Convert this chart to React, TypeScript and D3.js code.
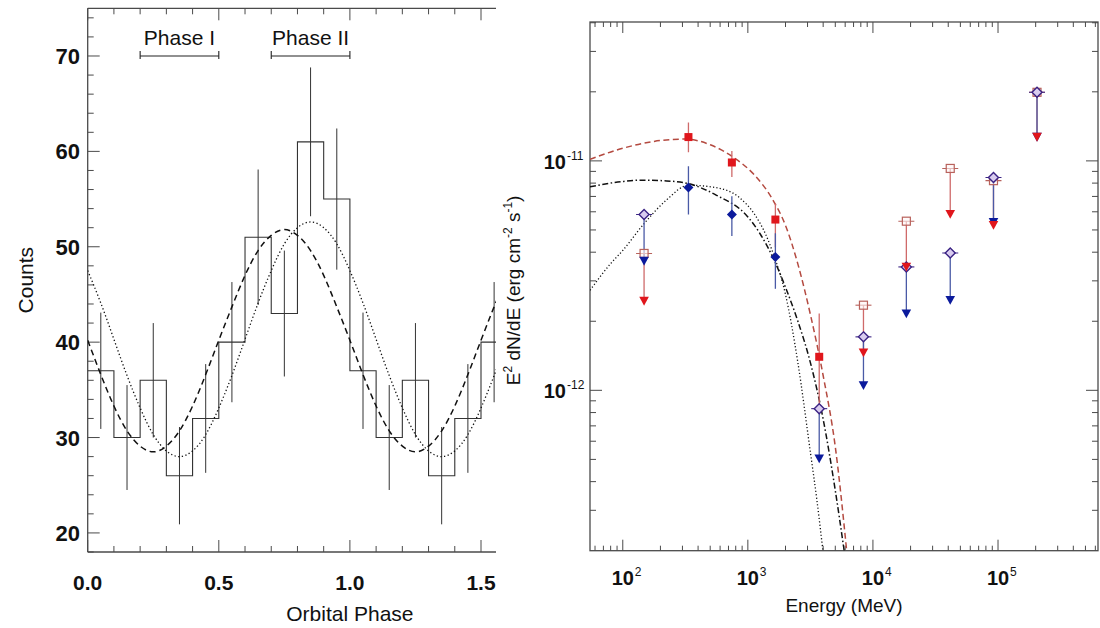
import React, { useEffect } from 'react';
import * as d3 from 'd3';

const FONT = '"Liberation Sans", Arial, Helvetica, sans-serif';

// ---------- left panel: counts vs orbital phase ----------
const binStarts = [0.0, 0.1, 0.2, 0.3, 0.4, 0.5, 0.6, 0.7, 0.8, 0.9, 1.0, 1.1, 1.2, 1.3, 1.4, 1.5];
const counts = [37, 30, 36, 26, 32, 40, 51, 43, 61, 55, 37, 30, 36, 26, 32, 40];
const countErr = [6.1, 5.5, 6.0, 5.1, 5.7, 6.3, 7.1, 6.6, 7.8, 7.4, 6.1, 5.5, 6.0, 5.1, 5.7, 6.3];

const fitPhase = [0, 0.05, 0.1, 0.15, 0.2, 0.25, 0.3, 0.35, 0.4, 0.45, 0.5, 0.55, 0.6, 0.65, 0.7, 0.75,
  0.8, 0.85, 0.9, 0.95, 1.0, 1.05, 1.1, 1.15, 1.2, 1.25, 1.3, 1.35, 1.4, 1.45, 1.5, 1.55, 1.6];
const dashedFit = [40.2, 36.6, 33.3, 30.7, 29.1, 28.5, 29.1, 30.7, 33.3, 36.6, 40.2, 43.7, 47.0, 49.6, 51.2, 51.8,
  51.2, 49.6, 47.0, 43.7, 40.2, 36.6, 33.3, 30.7, 29.1, 28.5, 29.1, 30.7, 33.3, 36.6, 40.2, 43.7, 47.0];
const dottedFit = [47.5, 44.1, 40.3, 36.5, 33.1, 30.3, 28.6, 28.0, 28.6, 30.3, 33.1, 36.5, 40.3, 44.1, 47.5, 50.3,
  52.0, 52.6, 52.0, 50.3, 47.5, 44.1, 40.3, 36.5, 33.1, 30.3, 28.6, 28.0, 28.6, 30.3, 33.1, 36.5, 40.3];

const phaseBandLabels = ['Phase I', 'Phase II'];
const phaseBandFrom = [0.2, 0.7];
const phaseBandTo = [0.5, 1.0];
const phaseBandLevel = 70;

const phaseTickLabels = ['0.0', '0.5', '1.0', '1.5'];
const countTickLabels = [20, 30, 40, 50, 60, 70];

// ---------- right panel: SED ----------
const energies = [148, 335, 745, 1660, 3720, 8400, 18500, 41500, 92000, 205000];

// phase I detections (red filled squares)
const redE = [335, 745, 1660, 3720];
const redFlux = [1.27e-11, 9.84e-12, 5.55e-12, 1.40e-12];
const redLo = [1.09e-11, 8.51e-12, 4.2e-12, 8.5e-13];
const redHi = [1.47e-11, 1.105e-11, 6.56e-12, 2.16e-12];
// phase I upper limits (open squares)
const redUlE = [148, 8400, 18500, 41500, 92000, 205000];
const redUl = [3.95e-12, 2.35e-12, 5.46e-12, 9.27e-12, 8.2e-12, 1.99e-11];
const redUlEnd = [2.45e-12, 1.46e-12, 3.45e-12, 5.86e-12, 5.25e-12, 1.27e-11];

// phase II detections (blue filled diamonds)
const blueE = [335, 745, 1660];
const blueFlux = [7.66e-12, 5.84e-12, 3.81e-12];
const blueLo = [5.84e-12, 4.70e-12, 2.77e-12];
const blueHi = [9.48e-12, 7.02e-12, 4.84e-12];
// phase II upper limits (open diamonds)
const blueUlE = [148, 3720, 8400, 18500, 41500, 92000, 205000];
const blueUl = [5.84e-12, 8.32e-13, 1.71e-12, 3.45e-12, 3.97e-12, 8.47e-12, 1.99e-11];
const blueUlEnd = [3.66e-12, 5.04e-13, 1.05e-12, 2.16e-12, 2.47e-12, 5.4e-12, 1.27e-11];

// model curves
const redModelE = [54.7, 100, 178, 316, 501, 794, 1122, 1585, 1995, 2512, 3162, 3981, 5012, 6166];
const redModelF = [1.016e-11, 1.135e-11, 1.216e-11, 1.245e-11, 1.175e-11, 1.023e-11, 8.71e-12, 6.76e-12,
  5.25e-12, 3.55e-12, 2.14e-12, 1.175e-12, 5.62e-13, 2.0e-13];
const dashDotE = [54.7, 100, 141, 224, 335, 562, 1000, 1259, 1585, 1995, 2512, 3162, 3981, 5012, 5888];
const dashDotF = [7.71e-12, 8.13e-12, 8.24e-12, 8.18e-12, 7.96e-12, 7.08e-12, 5.70e-12, 4.79e-12, 3.80e-12,
  2.82e-12, 2.0e-12, 1.32e-12, 7.59e-13, 3.63e-13, 2.0e-13];
const dottedE = [54.7, 79.4, 100, 148, 224, 335, 547, 841, 1122, 1413, 1585, 1995, 2512, 3162, 3548, 3981];
const dottedF = [2.73e-12, 3.55e-12, 4.07e-12, 5.33e-12, 6.76e-12, 7.83e-12, 7.66e-12, 6.97e-12, 5.89e-12,
  4.68e-12, 3.98e-12, 2.63e-12, 1.32e-12, 5.37e-13, 3.39e-13, 2.0e-13];

const energyTickExp = [2, 3, 4, 5];
const fluxTickExp = [-11, -12];

const AXIS = '#4a4a4a';
const RED = '#e0161c';
const RED_LINE = '#cf6a6a';
const RED_OPEN = '#b8625c';
const BLUE = '#0b1a9c';
const BLUE_LINE = '#4a5aa6';
const PURPLE = '#3b2384';

const App = () => {
  useEffect(() => {
    document.body.style.margin = '0';
  }, []);

  // left panel scales
  const xL = d3.scaleLinear().domain([0, 2]).range([87.7, 612.1]);
  const yL = d3.scaleLinear().domain([18, 75]).range([552, 8.3]);
  const leftClip = 496;
  const [yB, yT] = yL.range();

  const histPts = binStarts.map((b, i) => [b, counts[i]]);
  histPts.push([binStarts[binStarts.length - 1] + 0.1, counts[counts.length - 1]]);
  const histPath = d3.line().x(d => xL(d[0])).y(d => yL(d[1])).curve(d3.curveStepAfter)(histPts);
  const fitLine = d3.line().x(d => xL(d[0])).y(d => yL(d[1])).curve(d3.curveNatural);
  const dashedPath = fitLine(fitPhase.map((p, i) => [p, dashedFit[i]]));
  const dottedPath = fitLine(fitPhase.map((p, i) => [p, dottedFit[i]]));

  const xMinor = d3.range(0, 1.61, 0.1);
  const yMinor = d3.range(18, 75.1, 2);

  // right panel scales
  const xR = d3.scaleLog().domain([54.7, 6.3e5]).range([590, 1098]);
  const yR = d3.scaleLog().domain([2.0e-13, 4.03e-11]).range([550.7, 22]);
  const [rx0, rx1] = xR.range();
  const [ry0, ry1] = yR.range();
  const logLine = d3.line().x(d => xR(d[0])).y(d => yR(d[1])).curve(d3.curveMonotoneX);
  const redModel = logLine(redModelE.map((e, i) => [e, redModelF[i]]));
  const dashDotModel = logLine(dashDotE.map((e, i) => [e, dashDotF[i]]));
  const dottedModel = logLine(dottedE.map((e, i) => [e, dottedF[i]]));

  const xMinorR = [];
  [10, 100, 1000, 10000, 100000].forEach(dec => {
    for (let k = 1; k <= 9; k++) {
      const v = dec * k;
      if (v >= 54.7 && v <= 6.3e5 && k !== 1) xMinorR.push(v);
    }
  });
  const yMinorR = [];
  [1e-13, 1e-12, 1e-11].forEach(dec => {
    for (let k = 2; k <= 9; k++) {
      const v = dec * k;
      if (v > 2.0e-13 && v < 4.03e-11) yMinorR.push(v);
    }
  });

  const tri = (x, y) => `M${x - 4.8},${y - 4.2}L${x + 4.8},${y - 4.2}L${x},${y + 4.6}Z`;
  const dia = (x, y, r) => `M${x},${y - r}L${x + r},${y}L${x},${y + r}L${x - r},${y}Z`;

  return (
    <svg width={1100} height={628} style={{ position: 'absolute', left: 0, top: 0, background: '#fff' }}
      fontFamily={FONT}>
      <defs>
        <clipPath id="leftClip">
          <rect x={xL(0)} y={yT} width={leftClip - xL(0)} height={yB - yT} />
        </clipPath>
        <clipPath id="rightClip">
          <rect x={rx0} y={ry1} width={rx1 - rx0} height={ry0 - ry1} />
        </clipPath>
      </defs>

      {/* ===== LEFT PANEL ===== */}
      <g>
        {/* axes frame */}
        <line x1={xL(0)} x2={xL(0)} y1={yT} y2={yB} stroke={AXIS} strokeWidth={1.3} />
        <line x1={xL(0)} x2={leftClip} y1={yB} y2={yB} stroke={AXIS} strokeWidth={1.3} />
        <line x1={xL(0)} x2={leftClip} y1={yT} y2={yT} stroke={AXIS} strokeWidth={1.3} />

        {xMinor.map((v, i) => {
          const major = i % 5 === 0;
          const len = major ? 12 : 6;
          const x = xL(v);
          if (x > leftClip) return null;
          return (
            <g key={'xt' + i}>
              <line x1={x} x2={x} y1={yB} y2={yB - len} stroke={AXIS} strokeWidth={1} />
              <line x1={x} x2={x} y1={yT} y2={yT + len} stroke={AXIS} strokeWidth={1} />
            </g>
          );
        })}
        {yMinor.map((v, i) => {
          const major = v % 10 === 0;
          return (
            <line key={'yt' + i} x1={xL(0)} x2={xL(0) + (major ? 12 : 6)} y1={yL(v)} y2={yL(v)}
              stroke={AXIS} strokeWidth={1} />
          );
        })}

        {countTickLabels.map(v => (
          <text key={'yl' + v} x={80} y={yL(v) + 8} textAnchor="end" fontSize={22} fontWeight="bold" fill="#111">
            {v}
          </text>
        ))}
        {phaseTickLabels.map(t => (
          <text key={'xl' + t} x={xL(+t)} y={590} textAnchor="middle" fontSize={21} fontWeight="bold" fill="#111">
            {t}
          </text>
        ))}
        <text x={xL(1.0)} y={621} textAnchor="middle" fontSize={21} fill="#111">Orbital Phase</text>
        <text transform={`translate(33, ${(yT + yB) / 2}) rotate(-90)`} textAnchor="middle" fontSize={21} fill="#111">
          Counts
        </text>

        {/* phase brackets */}
        {phaseBandLabels.map((lab, i) => {
          const x0 = xL(phaseBandFrom[i]);
          const x1 = xL(phaseBandTo[i]);
          const y = yL(phaseBandLevel);
          return (
            <g key={lab}>
              <line x1={x0} x2={x1} y1={y} y2={y} stroke="#222" strokeWidth={1.1} />
              <line x1={x0} x2={x0} y1={y - 5} y2={y + 3} stroke="#222" strokeWidth={1.1} />
              <line x1={x1} x2={x1} y1={y - 5} y2={y + 3} stroke="#222" strokeWidth={1.1} />
              <text x={(x0 + x1) / 2} y={45} textAnchor="middle" fontSize={21} fill="#111">{lab}</text>
            </g>
          );
        })}

        <g clipPath="url(#leftClip)">
          <path d={histPath} fill="none" stroke="#333" strokeWidth={1.1} />
          {binStarts.map((b, i) => (
            <line key={'eb' + i} x1={xL(b + 0.05)} x2={xL(b + 0.05)}
              y1={yL(counts[i] - countErr[i])} y2={yL(counts[i] + countErr[i])} stroke="#333" strokeWidth={1} />
          ))}
          <path d={dashedPath} fill="none" stroke="#111" strokeWidth={1.5} strokeDasharray="6,4" />
          <path d={dottedPath} fill="none" stroke="#111" strokeWidth={1.3} strokeDasharray="1.3,2.4" />
        </g>
      </g>

      {/* ===== RIGHT PANEL ===== */}
      <g>
        <rect x={rx0} y={ry1} width={rx1 - rx0} height={ry0 - ry1} fill="none" stroke={AXIS} strokeWidth={1.3} />
        {energyTickExp.map(p => {
          const x = xR(Math.pow(10, p));
          return (
            <g key={'ex' + p}>
              <line x1={x} x2={x} y1={ry0} y2={ry0 - 11} stroke={AXIS} strokeWidth={1} />
              <line x1={x} x2={x} y1={ry1} y2={ry1 + 11} stroke={AXIS} strokeWidth={1} />
              <text x={x} y={585} textAnchor="middle" fontSize={20} fontWeight="bold" fill="#111">10</text>
              <text x={x + 12} y={576} textAnchor="start" fontSize={12} fill="#111">{p}</text>
            </g>
          );
        })}
        {xMinorR.map((v, i) => {
          const x = xR(v);
          return (
            <g key={'exm' + i}>
              <line x1={x} x2={x} y1={ry0} y2={ry0 - 5} stroke={AXIS} strokeWidth={1} />
              <line x1={x} x2={x} y1={ry1} y2={ry1 + 5} stroke={AXIS} strokeWidth={1} />
            </g>
          );
        })}
        {fluxTickExp.map(p => {
          const y = yR(Math.pow(10, p));
          return (
            <g key={'fy' + p}>
              <line x1={rx0} x2={rx0 + 12} y1={y} y2={y} stroke={AXIS} strokeWidth={1} />
              <line x1={rx1} x2={rx1 - 12} y1={y} y2={y} stroke={AXIS} strokeWidth={1} />
              <text x={566} y={y + 8} textAnchor="end" fontSize={20} fontWeight="bold" fill="#111">10</text>
              <text x={567} y={y - 1} textAnchor="start" fontSize={12} fill="#111">{p}</text>
            </g>
          );
        })}
        {yMinorR.map((v, i) => {
          const y = yR(v);
          return (
            <g key={'fym' + i}>
              <line x1={rx0} x2={rx0 + 6} y1={y} y2={y} stroke={AXIS} strokeWidth={1} />
              <line x1={rx1} x2={rx1 - 6} y1={y} y2={y} stroke={AXIS} strokeWidth={1} />
            </g>
          );
        })}

        <text x={(rx0 + rx1) / 2} y={612} textAnchor="middle" fontSize={19} fill="#111">Energy (MeV)</text>
        <text transform={`translate(520, ${(ry0 + ry1) / 2 + 4}) rotate(-90)`} textAnchor="middle" fontSize={19} fill="#111">
          <tspan>E</tspan>
          <tspan dy={-8} fontSize={12}>2</tspan>
          <tspan dy={8}> dN/dE (erg cm</tspan>
          <tspan dy={-8} fontSize={12}>-2</tspan>
          <tspan dy={8}> s</tspan>
          <tspan dy={-8} fontSize={12}>-1</tspan>
          <tspan dy={8}>)</tspan>
        </text>

        <g clipPath="url(#rightClip)">
          <path d={dottedModel} fill="none" stroke="#111" strokeWidth={1.3} strokeDasharray="1.2,2.2" />
          <path d={dashDotModel} fill="none" stroke="#111" strokeWidth={1.5} strokeDasharray="6,2.5,1.5,2.5" />
          <path d={redModel} fill="none" stroke="#b44a40" strokeWidth={1.5} strokeDasharray="6,3.5" />

          {/* upper-limit arrows */}
          {redUlE.map((e, i) => (
            <line key={'ral' + i} x1={xR(e)} x2={xR(e)} y1={yR(redUl[i])} y2={yR(redUlEnd[i])}
              stroke={RED_LINE} strokeWidth={1.3} />
          ))}
          {blueUlE.map((e, i) => (
            <line key={'bal' + i} x1={xR(e)} x2={xR(e)} y1={yR(blueUl[i])} y2={yR(blueUlEnd[i])}
              stroke={BLUE_LINE} strokeWidth={1.3} />
          ))}

          {/* error bars */}
          {redE.map((e, i) => (
            <line key={'re' + i} x1={xR(e)} x2={xR(e)} y1={yR(redLo[i])} y2={yR(redHi[i])}
              stroke={RED_LINE} strokeWidth={1.3} />
          ))}
          {blueE.map((e, i) => (
            <line key={'be' + i} x1={xR(e)} x2={xR(e)} y1={yR(blueLo[i])} y2={yR(blueHi[i])}
              stroke={BLUE_LINE} strokeWidth={1.3} />
          ))}

          {/* open markers */}
          {redUlE.map((e, i) => {
            const x = xR(e), y = yR(redUl[i]);
            return (
              <g key={'rs' + i}>
                <line x1={x - 8} x2={x + 8} y1={y} y2={y} stroke={RED_OPEN} strokeWidth={1.1} />
                <rect x={x - 4} y={y - 4} width={8} height={8} fill="#fff6f6" fillOpacity={0.6} stroke={RED_OPEN} strokeWidth={1.2} />
              </g>
            );
          })}
          {blueUlE.map((e, i) => {
            const x = xR(e), y = yR(blueUl[i]);
            return (
              <g key={'bd' + i}>
                <line x1={x - 8} x2={x + 8} y1={y} y2={y} stroke={PURPLE} strokeWidth={1.1} />
                <path d={dia(x, y, 5)} fill="#d9ccef" stroke={PURPLE} strokeWidth={1.4} />
              </g>
            );
          })}

          {/* arrow heads */}
          {blueUlE.map((e, i) => (
            <path key={'bt' + i} d={tri(xR(e), yR(blueUlEnd[i]))} fill={BLUE} />
          ))}
          {redUlE.map((e, i) => (
            <path key={'rt' + i} d={tri(xR(e), yR(redUlEnd[i]))} fill={RED} />
          ))}

          {/* detections */}
          {redE.map((e, i) => (
            <rect key={'rq' + i} x={xR(e) - 4} y={yR(redFlux[i]) - 4} width={8} height={8} fill={RED} />
          ))}
          {blueE.map((e, i) => (
            <path key={'bq' + i} d={dia(xR(e), yR(blueFlux[i]), 5)} fill={BLUE} />
          ))}
        </g>
      </g>
    </svg>
  );
};

export default App;
